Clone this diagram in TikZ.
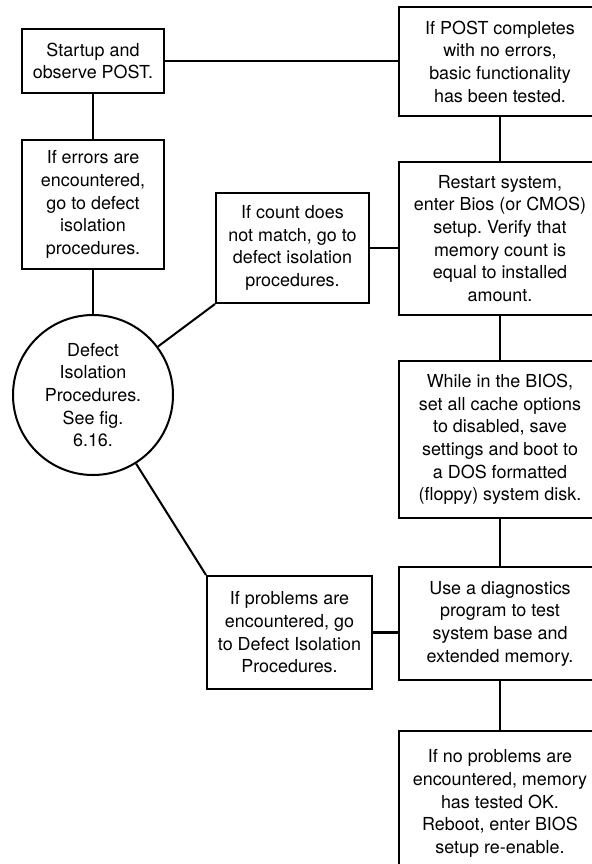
\documentclass[tikz,border=0pt]{standalone}
\usepackage{fontspec}
\setmainfont{TeX Gyre Heros}
\frenchspacing
\begin{document}
\begin{tikzpicture}[
    box/.style={draw, line width=1.15pt, inner sep=0pt, font=\fontsize{10.2}{12.9}\selectfont, align=center},
    round/.style={draw, circle, line width=1.15pt, inner sep=0pt, minimum size=3.2cm, font=\fontsize{10.2}{12.9}\selectfont, align=center},
    link/.style={line width=1.15pt}
]
    \useasboundingbox (0, 0) rectangle (11.82, -17.28);

    % 左列
    \node[box, minimum width=2.84cm, minimum height=1.28cm] (startup) at (1.86, -1.22) {Startup and\\observe POST.};
    \node[box, minimum width=2.84cm, minimum height=2.58cm] (errors) at (1.86, -4.09) {If errors are\\encountered,\\go to defect\\isolation\\procedures.};
    \node[round] (defect) at (1.86, -7.9) {Defect\\Isolation\\Procedures.\\See fig.\\6.16.};

    % 中列
    \node[box, minimum width=3.06cm, minimum height=2.2cm] (count) at (5.85, -4.96) {If count does\\not match, go to\\defect isolation\\procedures.};
    \node[box, minimum width=3.3cm, minimum height=2.26cm] (problems) at (5.79, -12.65) {If problems are\\encountered, go\\to Defect Isolation\\Procedures.};

    % 右列
    \node[box, minimum width=4.04cm, minimum height=2.18cm] (postok) at (10.0, -1.23) {If POST completes\\with no errors,\\basic functionality\\has been tested.};
    \node[box, minimum width=4.04cm, minimum height=3.06cm] (restart) at (10.0, -4.77) {Restart system,\\enter Bios (or CMOS)\\setup. Verify that\\memory count is\\equal to installed\\amount.};
    \node[box, minimum width=4.04cm, minimum height=3.14cm] (cache) at (10.0, -8.79) {While in the BIOS,\\set all cache options\\to disabled, save\\settings and boot to\\a DOS formatted\\(floppy) system disk.};
    \node[box, minimum width=4.04cm, minimum height=2.26cm] (diag) at (10.0, -12.47) {Use a diagnostics\\program to test\\system base and\\extended memory.};
    \node[box, minimum width=4.04cm, minimum height=2.9cm] (passed) at (10.0, -16.07) {If no problems are\\encountered, memory\\has tested OK.\\Reboot, enter BIOS\\setup re-enable.};

    \draw[link] (startup.east) -- (startup.east -| postok.west);
    \draw[link] (startup) -- (errors);
    \draw[link] (errors) -- (defect);
    \draw[link] (defect) -- (count.south west);
    \draw[link] (defect) -- (problems.north west);
    \draw[link] (postok) -- (restart);
    \draw[link] (count.east) -- (count.east -| restart.west);
    \draw[link] (restart) -- (cache);
    \draw[link] (cache) -- (diag);
    \draw[link] (problems.east) -- (problems.east -| diag.west);
    \draw[link] (diag) -- (passed);
\end{tikzpicture}
\end{document}
